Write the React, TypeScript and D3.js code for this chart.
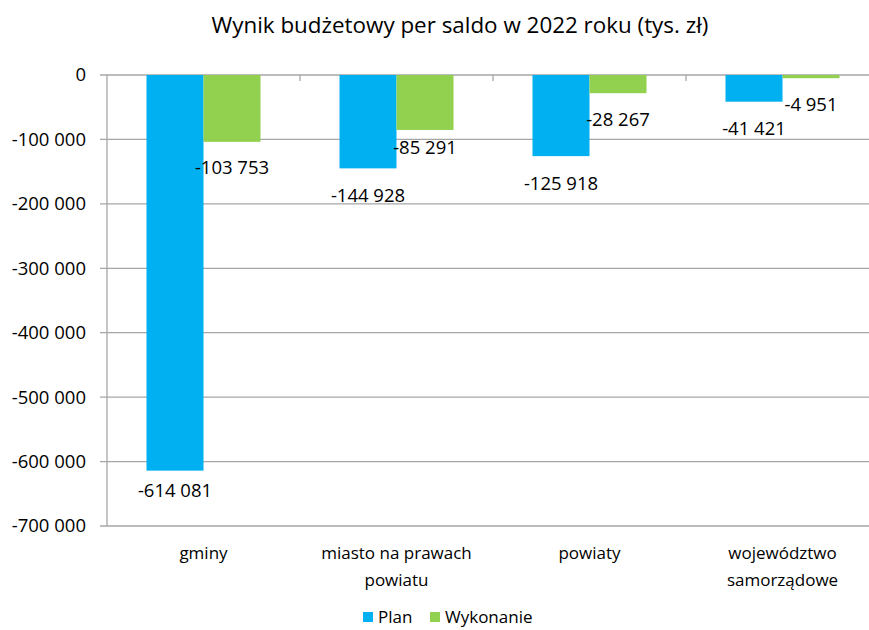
import { useEffect, useRef } from 'react';
import * as d3 from 'd3';

const categories = ['gminy', 'miasto na prawach powiatu', 'powiaty', 'województwo samorządowe'];
const categoryLines = [['gminy'], ['miasto na prawach', 'powiatu'], ['powiaty'], ['województwo', 'samorządowe']];
const plan = [-614081, -144928, -125918, -41421];
const wykonanie = [-103753, -85291, -28267, -4951];
const seriesNames = ['Plan', 'Wykonanie'];
const yTicks = [0, -100000, -200000, -300000, -400000, -500000, -600000, -700000];

const colors = ['#00B0F0', '#92D050'];
const font = '"Open Sans", sans-serif';
// Excel nudges a couple of labels, vertical offset below bar end (px)
const labelDy = [
  [20, 27, 27, 27],
  [26, 18, 26, 26],
];

const W = 869;
const H = 630;

function fmt(v: number): string {
  const s = Math.abs(v).toString().replace(/\B(?=(\d{3})+(?!\d))/g, ' ');
  return (v < 0 ? '-' : '') + s;
}

export default function App() {
  const svgRef = useRef<SVGSVGElement>(null);

  useEffect(() => {
    if (!svgRef.current) return;
    const svg = d3.select(svgRef.current);
    svg.selectAll('*').remove();

    const left = 107;
    const right = 879;
    const top = 75;
    const bottom = 526;

    const x = d3.scaleBand<string>().domain(categories).range([left, right]).paddingInner(0).paddingOuter(0);
    const y = d3.scaleLinear().domain([-700000, 0]).range([bottom, top]);
    const barW = 57;

    // gridlines
    svg
      .append('g')
      .selectAll('line')
      .data(yTicks)
      .enter()
      .append('line')
      .attr('x1', left - 7)
      .attr('x2', right)
      .attr('y1', (d) => y(d))
      .attr('y2', (d) => y(d))
      .attr('stroke', '#a6a6a6')
      .attr('stroke-width', 1.3);

    // y axis line
    svg
      .append('line')
      .attr('x1', left)
      .attr('x2', left)
      .attr('y1', top)
      .attr('y2', bottom)
      .attr('stroke', '#a6a6a6')
      .attr('stroke-width', 1.3);

    // y labels
    svg
      .append('g')
      .selectAll('text')
      .data(yTicks)
      .enter()
      .append('text')
      .attr('x', 86)
      .attr('y', (d) => y(d))
      .attr('dy', '0.35em')
      .attr('text-anchor', 'end')
      .attr('font-family', font)
      .attr('font-size', 18.5)
      .attr('fill', '#000')
      .text((d) => fmt(d));

    // bars
    const series = [plan, wykonanie];
    series.forEach((vals, si) => {
      svg
        .append('g')
        .selectAll('rect')
        .data(vals)
        .enter()
        .append('rect')
        .attr('x', (_, i) => x(categories[i])! + x.bandwidth() / 2 - barW + si * barW)
        .attr('y', y(0))
        .attr('width', barW)
        .attr('height', (d) => y(d) - y(0))
        .attr('fill', colors[si]);
    });

    // category ticks on zero line
    const bounds = categories.map((c) => x(c)!).concat([right]);
    svg
      .append('g')
      .selectAll('line')
      .data(bounds.slice(1))
      .enter()
      .append('line')
      .attr('x1', (d) => d)
      .attr('x2', (d) => d)
      .attr('y1', y(0))
      .attr('y2', y(0) + 6)
      .attr('stroke', '#a6a6a6')
      .attr('stroke-width', 1.3);

    // data labels
    series.forEach((vals, si) => {
      svg
        .append('g')
        .selectAll('text')
        .data(vals)
        .enter()
        .append('text')
        .attr('x', (_, i) => x(categories[i])! + x.bandwidth() / 2 - barW / 2 + si * barW)
        .attr('y', (d, i) => y(d) + labelDy[si][i])
        .attr('dy', '0.35em')
        .attr('text-anchor', 'middle')
        .attr('font-family', font)
        .attr('font-size', 18.5)
        .attr('fill', '#000')
        .text((d) => fmt(d));
    });

    // category labels
    categoryLines.forEach((lines, i) => {
      const t = svg
        .append('text')
        .attr('x', x(categories[i])! + x.bandwidth() / 2)
        .attr('y', 553)
        .attr('text-anchor', 'middle')
        .attr('font-family', font)
        .attr('font-size', 17)
        .attr('fill', '#000');
      lines.forEach((ln, j) => {
        t.append('tspan')
          .attr('x', x(categories[i])! + x.bandwidth() / 2)
          .attr('y', 553 + j * 27)
          .attr('dy', '0.35em')
          .text(ln);
      });
    });

    // title
    svg
      .append('text')
      .attr('x', 460)
      .attr('y', 25)
      .attr('dy', '0.35em')
      .attr('text-anchor', 'middle')
      .attr('font-family', font)
      .attr('font-size', 22.4)
      .attr('fill', '#000')
      .text('Wynik budżetowy per saldo w 2022 roku (tys. zł)');

    // legend
    const legendX = [363, 430];
    seriesNames.forEach((name, i) => {
      svg
        .append('rect')
        .attr('x', legendX[i])
        .attr('y', 612)
        .attr('width', 10)
        .attr('height', 10)
        .attr('fill', colors[i]);
      svg
        .append('text')
        .attr('x', legendX[i] + 15)
        .attr('y', 617)
        .attr('dy', '0.35em')
        .attr('font-family', font)
        .attr('font-size', 17)
        .attr('fill', '#000')
        .text(name);
    });
  }, []);

  return (
    <svg
      ref={svgRef}
      width={W}
      height={H}
      style={{ position: 'absolute', left: 0, top: 0, display: 'block', background: '#fff' }}
    />
  );
}
